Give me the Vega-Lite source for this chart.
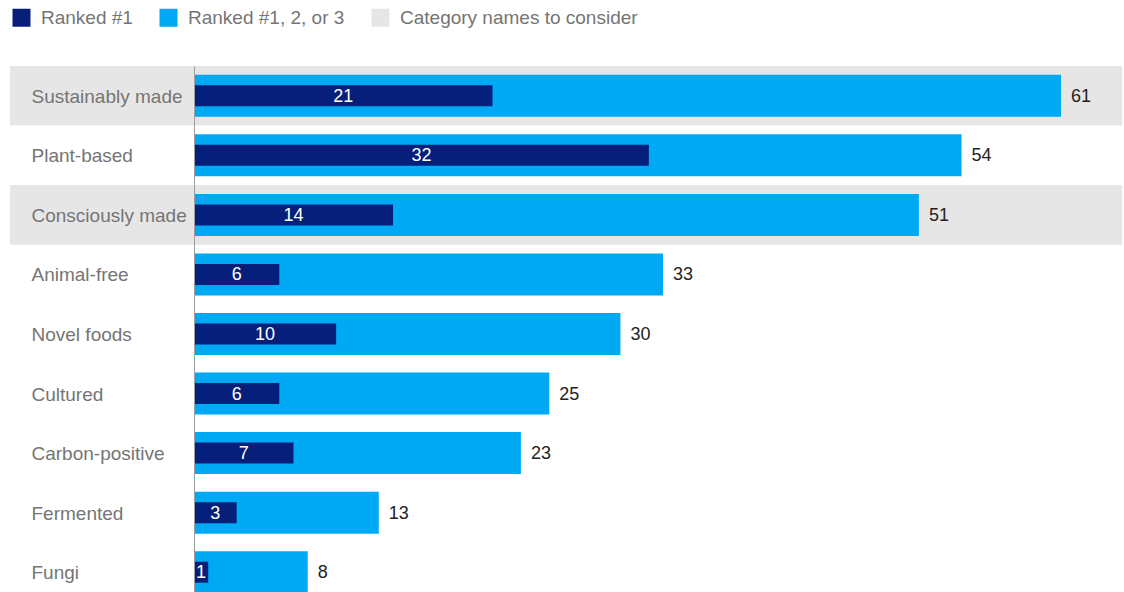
{
  "$schema": "https://vega.github.io/schema/vega-lite/v6.json",
  "width": 930,
  "height": 536,
  "autosize": "none",
  "padding": {"left": 194, "top": 66, "right": 0, "bottom": 0},
  "background": "white",
  "config": {
    "view": {"stroke": null},
    "font": "Liberation Sans"
  },
  "data": {
    "values": [
      {"category": "Sustainably made", "top1": 21, "top3": 61, "highlight": true},
      {"category": "Plant-based", "top1": 32, "top3": 54, "highlight": false},
      {"category": "Consciously made", "top1": 14, "top3": 51, "highlight": true},
      {"category": "Animal-free", "top1": 6, "top3": 33, "highlight": false},
      {"category": "Novel foods", "top1": 10, "top3": 30, "highlight": false},
      {"category": "Cultured", "top1": 6, "top3": 25, "highlight": false},
      {"category": "Carbon-positive", "top1": 7, "top3": 23, "highlight": false},
      {"category": "Fermented", "top1": 3, "top3": 13, "highlight": false},
      {"category": "Fungi", "top1": 1, "top3": 8, "highlight": false}
    ]
  },
  "encoding": {
    "y": {
      "field": "category",
      "type": "nominal",
      "sort": ["Sustainably made", "Plant-based", "Consciously made", "Animal-free", "Novel foods", "Cultured", "Carbon-positive", "Fermented", "Fungi"],
      "scale": {"paddingInner": 0, "paddingOuter": 0},
      "axis": {
        "title": null,
        "ticks": false,
        "domainColor": "#9e9e9e",
        "domainWidth": 1,
        "labelAlign": "left",
        "labelPadding": 163,
        "labelFontSize": 19,
        "labelColor": "#757575",
        "labelFont": "Liberation Sans",
        "labelBaseline": "middle",
        "labelOffset": 1
      }
    }
  },
  "layer": [
    {
      "transform": [{"filter": "datum.highlight"}],
      "mark": {"type": "rect"},
      "encoding": {
        "x": {"datum": -12.95, "type": "quantitative", "scale": {"domain": [0, 65.43], "nice": false, "zero": true}, "axis": null},
        "x2": {"datum": 65.3},
        "color": {"datum": "Category names to consider"}
      }
    },
    {
      "mark": {"type": "bar", "size": 42},
      "encoding": {
        "x": {"field": "top3", "type": "quantitative"},
        "color": {"datum": "Ranked #1, 2, or 3"}
      }
    },
    {
      "mark": {"type": "bar", "size": 21},
      "encoding": {
        "x": {"field": "top1", "type": "quantitative"},
        "color": {
          "datum": "Ranked #1",
          "scale": {
            "domain": ["Ranked #1", "Ranked #1, 2, or 3", "Category names to consider"],
            "range": ["#061f7a", "#00a9f4", "#e6e6e6"]
          },
          "legend": {
            "title": null,
            "orient": "none",
            "legendX": -182,
            "legendY": -58,
            "direction": "horizontal",
            "padding": 0,
            "symbolType": "square",
            "symbolSize": 324,
            "symbolStrokeWidth": 0,
            "symbolOpacity": 1,
            "labelFontSize": 19,
            "labelColor": "#757575",
            "labelFont": "Liberation Sans",
            "labelOffset": 10,
            "columnPadding": 26,
            "labelLimit": 400
          }
        }
      }
    },
    {
      "mark": {"type": "text", "align": "left", "baseline": "middle", "dx": 10, "dy": 1, "fontSize": 18, "color": "#222222"},
      "encoding": {
        "x": {"field": "top3", "type": "quantitative"},
        "text": {"field": "top3", "type": "quantitative"}
      }
    },
    {
      "mark": {"type": "text", "align": "center", "baseline": "middle", "dy": 1, "fontSize": 18, "color": "white"},
      "encoding": {
        "x": {"field": "top1", "type": "quantitative", "stack": "zero", "bandPosition": 0.5},
        "text": {"field": "top1", "type": "quantitative"}
      }
    }
  ]
}
